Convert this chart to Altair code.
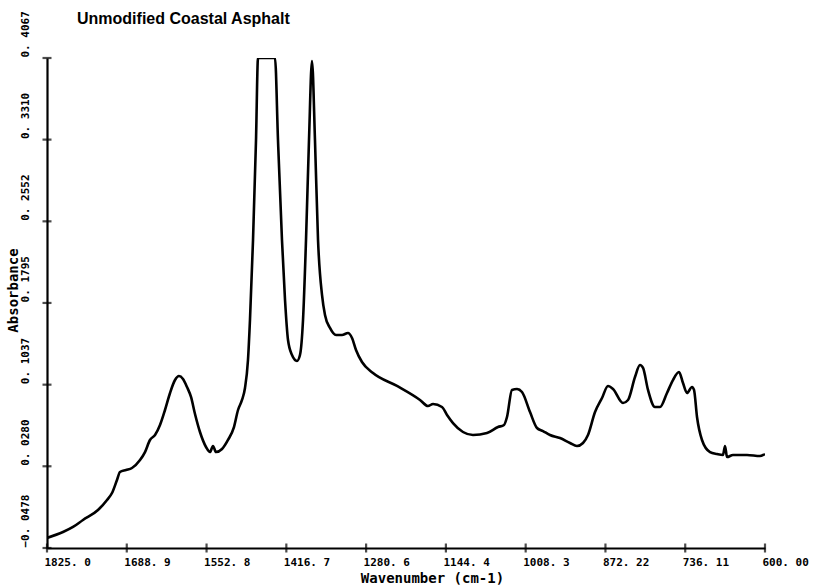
import altair as alt
import pandas as pd

# Infrared absorbance spectrum of unmodified coastal asphalt
wavenumber = [
    1825.0, 1797.7, 1780.6, 1763.6, 1738.0, 1722.6, 1714.1, 1705.6, 1700.5, 1690.2,
    1680.0, 1666.3, 1657.8, 1649.3, 1640.7, 1632.2, 1623.7, 1615.1, 1606.6, 1599.8,
    1593.0, 1586.1, 1579.3, 1572.5, 1564.0, 1553.7, 1546.9, 1541.8, 1536.7, 1526.4,
    1516.2, 1506.0, 1499.1, 1492.3, 1487.2, 1482.1, 1478.7, 1473.5, 1468.4, 1465.0,
    1436.0, 1430.9, 1424.1, 1418.9, 1413.8, 1407.0, 1398.5, 1393.4, 1388.2, 1383.1,
    1378.0, 1372.9, 1367.8, 1362.6, 1355.8, 1350.7, 1342.2, 1331.9, 1321.7, 1311.5,
    1304.6, 1297.8, 1287.6, 1268.8, 1227.9, 1188.6, 1175.0, 1166.4, 1151.1, 1142.5,
    1132.3, 1115.3, 1098.2, 1074.3, 1055.5, 1045.3,
    1040.2, 1031.7, 1023.1, 1014.6, 1000.9, 989.0,
    978.8, 966.8, 949.8, 932.7, 920.8, 910.5, 902.0, 890.0, 878.1, 867.9,
    859.3, 842.3, 833.7, 821.8, 813.3, 808.1, 799.6, 787.7, 779.1, 767.2,
    757.0, 746.7, 739.9, 733.1, 724.5, 721.1, 716.0, 707.5, 693.8, 681.9,
    671.7, 668.2, 664.8, 654.6, 630.7, 608.5, 600.0,
]
absorbance = [
    -0.0385, -0.0330, -0.0283, -0.0218, -0.0126, -0.0033, 0.0032, 0.0153, 0.0227, 0.0245,
    0.0264, 0.0338, 0.0412, 0.0524, 0.0570, 0.0663, 0.0802, 0.0960, 0.1080, 0.1117,
    0.1090, 0.1015, 0.0923, 0.0765, 0.0598, 0.0459, 0.0412, 0.0468, 0.0412, 0.0440,
    0.0524, 0.0644, 0.0802, 0.0895, 0.1006, 0.1266, 0.1637, 0.2379, 0.3306, 0.4067,
    0.4067, 0.3306, 0.2379, 0.1822, 0.1451, 0.1312, 0.1257, 0.1312, 0.1637, 0.2379,
    0.3306, 0.4039, 0.3306, 0.2379, 0.1869, 0.1683, 0.1563, 0.1498, 0.1498, 0.1516,
    0.1470, 0.1359, 0.1247, 0.1145, 0.1025, 0.0895, 0.0839, 0.0858, 0.0830, 0.0756,
    0.0681, 0.0598, 0.0570, 0.0589, 0.0644, 0.0663,
    0.0737, 0.0988, 0.0997, 0.0969, 0.0783, 0.0635,
    0.0607, 0.0570, 0.0542, 0.0496, 0.0468, 0.0496, 0.0570, 0.0783, 0.0913, 0.1025,
    0.0997, 0.0867, 0.0895, 0.1108, 0.1219, 0.1192, 0.0988, 0.0830, 0.0830, 0.0960,
    0.1080, 0.1154, 0.1052, 0.0960, 0.1015, 0.0988, 0.0737, 0.0524, 0.0412, 0.0394,
    0.0385, 0.0468, 0.0366, 0.0385, 0.0385, 0.0375, 0.0394,
]

x_ticks = [1825.0, 1688.89, 1552.78, 1416.67, 1280.56, 1144.44, 1008.33, 872.22, 736.11, 600.0]
y_ticks = [-0.0478, 0.0280, 0.1037, 0.1795, 0.2552, 0.3310, 0.4067]

chart_title = "Unmodified Coastal Asphalt"

df = pd.DataFrame({"wavenumber": wavenumber, "absorbance": absorbance})
xtick_df = pd.DataFrame({"wavenumber": x_ticks})
ytick_df = pd.DataFrame({"absorbance": y_ticks})

mono = "DejaVu Sans Mono"
x_scale = alt.Scale(domain=[600, 1825], reverse=True, nice=False, zero=False)
y_scale = alt.Scale(domain=[-0.0478, 0.4067], nice=False, zero=False)

x_axis = alt.Axis(
    values=x_ticks,
    labelExpr="replace(format(datum.value, '.5r'), '.', '. ')",
    labelFont=mono, labelFontWeight="bold", labelFontSize=11, labelColor="black",
    labelAlign="left", labelBaseline="top", labelPadding=8, labelOffset=-3,
    labelFlush=False, labelOverlap=False,
    domainColor="black", domainWidth=2.2, ticks=False,
    grid=False,
    title="Wavenumber (cm-1)", titleFont=mono, titleFontWeight="bold", titleFontSize=14,
    titleColor="black", titleX=385, titleY=23, titleBaseline="top",
)

y_axis = alt.Axis(
    values=y_ticks,
    labelExpr="replace(format(datum.value, '.4f'), '.', '. ')",
    labelFont=mono, labelFontWeight="bold", labelFontSize=11, labelColor="black",
    labelAngle=270, labelAlign="left", labelBaseline="middle", labelPadding=22,
    labelOffset=-1, labelFlush=False, labelOverlap=False,
    domainColor="black", domainWidth=2.2, ticks=False,
    grid=False,
    title="Absorbance", titleFont=mono, titleFontWeight="bold", titleFontSize=14,
    titleColor="black", titleAngle=270, titleX=-34, titleY=232,
    titleAlign="center", titleBaseline="middle",
)

spectrum = (
    alt.Chart(df)
    .mark_line(color="black", strokeWidth=2.6, clip=True, strokeJoin="round",
               interpolate="monotone")
    .encode(
        x=alt.X("wavenumber:Q", scale=x_scale, axis=x_axis),
        y=alt.Y("absorbance:Q", scale=y_scale, axis=y_axis),
    )
)

# short crossing tick marks on both axes
x_tick_marks = (
    alt.Chart(xtick_df)
    .mark_tick(color="black", thickness=2.2, size=9, orient="vertical")
    .encode(x=alt.X("wavenumber:Q", scale=x_scale, axis=x_axis), y=alt.value(490))
)
y_tick_marks = (
    alt.Chart(ytick_df)
    .mark_tick(color="black", thickness=2.2, size=9, orient="horizontal")
    .encode(y=alt.Y("absorbance:Q", scale=y_scale, axis=y_axis), x=alt.value(0))
)

heading = (
    alt.Chart(pd.DataFrame({"label": [chart_title]}))
    .mark_text(font="Liberation Sans", fontWeight="bold", fontSize=16, color="black",
               align="left", baseline="middle")
    .encode(text="label:N", x=alt.value(30), y=alt.value(-39))
)

chart = (
    alt.layer(spectrum, x_tick_marks, y_tick_marks, heading)
    .properties(
        width=718,
        height=490,
        autosize=alt.AutoSizeParams(type="none"),
        padding={"left": 47, "top": 58, "right": 57, "bottom": 40},
        background="white",
    )
    .configure_view(stroke=None)
)

chart.save("out.html", embed_options={"renderer": "svg", "actions": False})
